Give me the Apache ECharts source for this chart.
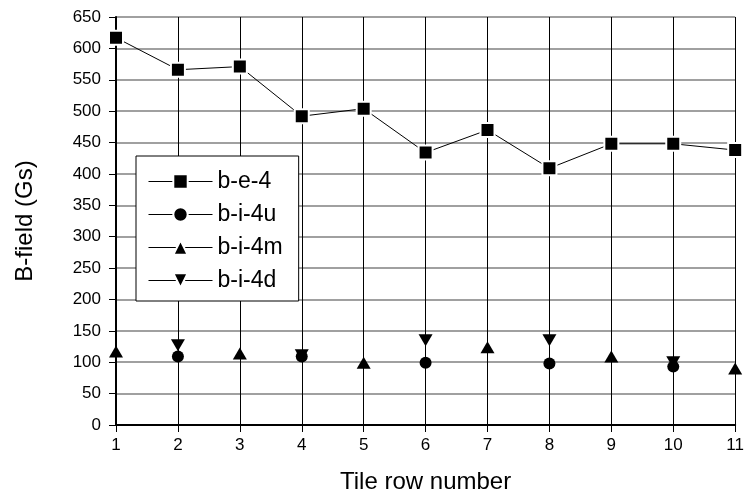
<!DOCTYPE html>
<html>
<head>
<meta charset="utf-8">
<script src="https://cdn.jsdelivr.net/npm/echarts@6/dist/echarts.min.js"></script>
<style>html,body{margin:0;padding:0;background:#fff}#c{width:747px;height:501px}</style>
</head>
<body>
<div id="c"></div>
<script>
const rows = [1, 2, 3, 4, 5, 6, 7, 8, 9, 10, 11];
const be4  = [617, 566, 571, 492, 504, 434, 470, 409, 448, 448, 438];
const bi4u = [null, 109, null, 109, null, 99, null, 98, null, 93, null];
const bi4m = [117, null, 114, null, 99, null, 124, null, 109, null, 90];
const bi4d = [null, 127, null, 111, null, 135, null, 135, null, 100, null];
const yTicks = [0, 50, 100, 150, 200, 250, 300, 350, 400, 450, 500, 550, 600, 650];

const FONT = 'Liberation Sans';
function pairs(vals) {
  const out = [];
  rows.forEach((x, i) => { if (vals[i] != null) out.push([x, vals[i]]); });
  return out;
}
const halo = {color: '#000', borderColor: '#fff', borderWidth: 2};
const chart = echarts.init(document.getElementById('c'));
chart.setOption({
  animation: false,
  textStyle: {fontFamily: FONT, color: '#000'},
  grid: {left: 116, right: 10, top: 17, bottom: 76},
  legend: {
    orient: 'vertical', left: 136, top: 156,
    backgroundColor: '#fff', borderColor: '#000', borderWidth: 1,
    padding: [14, 16, 9, 12],
    itemWidth: 64, itemHeight: 18, itemGap: 10,
    textStyle: {fontFamily: FONT, fontSize: 23, color: '#000', lineHeight: 23},
    lineStyle: {color: '#000', width: 1, opacity: 1},
    itemStyle: {borderColor: '#fff', borderWidth: 2},
    data: ['b-e-4', 'b-i-4u', 'b-i-4m', 'b-i-4d']
  },
  xAxis: {
    type: 'value', min: 1, max: 11, interval: 1,
    name: 'Tile row number', nameLocation: 'middle', nameGap: 45,
    nameTextStyle: {fontFamily: FONT, fontSize: 24, color: '#000'},
    axisLine: {show: true, lineStyle: {color: '#000', width: 2}},
    axisTick: {show: true, length: 7, lineStyle: {color: '#000', width: 1}},
    axisLabel: {fontFamily: FONT, fontSize: 17, color: '#000', margin: 12},
    splitLine: {show: true, lineStyle: {color: '#000', width: 1}}
  },
  yAxis: {
    type: 'value', min: 0, max: 650, interval: 50,
    name: 'B-field (Gs)', nameLocation: 'middle', nameGap: 79,
    nameTextStyle: {fontFamily: FONT, fontSize: 24, color: '#000'},
    axisLine: {show: true, lineStyle: {color: '#000', width: 2}},
    axisTick: {show: true, length: 7, lineStyle: {color: '#000', width: 1}},
    axisLabel: {fontFamily: FONT, fontSize: 17, color: '#000', margin: 15,
      formatter: v => yTicks.includes(v) ? String(v) : ''},
    splitLine: {show: true, lineStyle: {color: '#808080', width: 1.5}}
  },
  series: [
    {name: 'b-e-4', type: 'line', data: pairs(be4), symbol: 'rect', symbolSize: 14,
     lineStyle: {color: '#000', width: 1}, itemStyle: halo, z: 5},
    {name: 'b-i-4u', type: 'line', data: pairs(bi4u), symbol: 'circle', symbolSize: 12,
     lineStyle: {color: '#000', width: 1, opacity: 0}, itemStyle: {color: '#000'}, z: 4},
    {name: 'b-i-4m', type: 'line', data: pairs(bi4m), symbol: 'triangle', symbolSize: [14, 12],
     lineStyle: {color: '#000', width: 1, opacity: 0}, itemStyle: {color: '#000'}, z: 4},
    {name: 'b-i-4d', type: 'line', data: pairs(bi4d), symbol: 'path://M0,0 L10,0 L5,9 Z', symbolSize: [14, 12],
     lineStyle: {color: '#000', width: 1, opacity: 0}, itemStyle: {color: '#000'}, z: 3}
  ]
});
</script>
</body>
</html>
